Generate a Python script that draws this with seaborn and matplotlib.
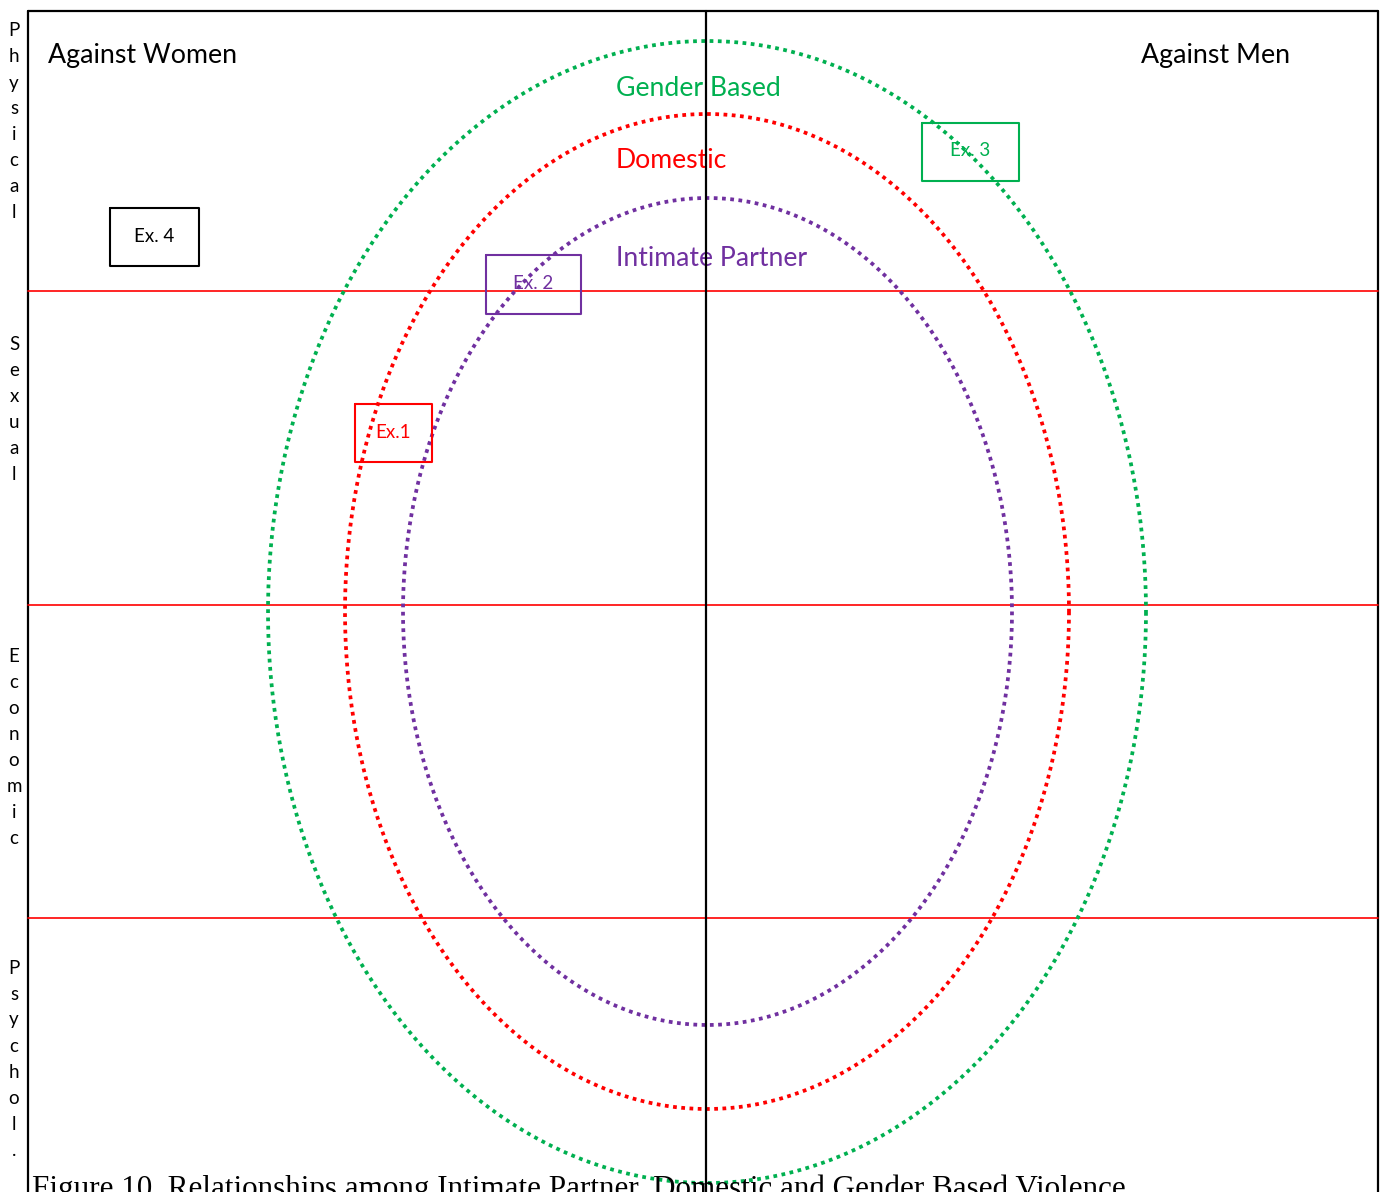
import numpy as np
import matplotlib.pyplot as plt
import seaborn as sns

# ring data: name, colour, centre and radii (in picture pixels)
ring_names = ["Gender Based", "Domestic", "Intimate Partner"]
ring_colors = ["#00B050", "#FF0000", "#7030A0"]
ring_cx = [707, 707, 707.5]
ring_cy = [612, 611.5, 611.5]
ring_rx = [439, 362, 304.5]
ring_ry = [571, 497.5, 413.5]
ring_label_y = [88, 160, 258]

# violence types down the left side and the band borders between them
type_labels = ["Physical", "Sexual", "Economic", "Psychol."]
type_label_top = [31, 344, 656, 968]
band_borders = [291, 605, 918]

# example boxes: label, colour, x0, y0, x1, y1
ex_labels = ["Ex.1", "Ex. 2", "Ex. 3", "Ex. 4"]
ex_colors = ["#FF0000", "#7030A0", "#00B050", "black"]
ex_x0 = [355, 486, 922, 110]
ex_y0 = [404, 255, 123, 208]
ex_x1 = [432, 581, 1019, 199]
ex_y1 = [462, 314, 181, 266]

caption = "Figure 10. Relationships among Intimate Partner, Domestic and Gender Based Violence"

sns.set_theme(style="white")
plt.rcParams['font.family'] = ['Lato', 'DejaVu Sans']

W, H = 1383, 1192
fig = plt.figure(figsize=(W / 100, H / 100), dpi=100)
ax = fig.add_axes([0, 0, 1, 1])
ax.set_xlim(0, W)
ax.set_ylim(H, 0)
ax.axis('off')

left, right, top, mid = 28, 1378, 11, 706

# frame
ax.plot([left, left], [top, H], color='black', lw=1.6)
ax.plot([right, right], [top, H], color='black', lw=1.6)
ax.plot([left, right], [top, top], color='black', lw=1.6)

# band borders
for y in band_borders:
    ax.plot([left, right], [y, y], color='#FF0000', lw=1.2)

# centre line
ax.plot([mid, mid], [top, H], color='black', lw=1.6, zorder=5)

# dotted rings
t = np.linspace(0, 2 * np.pi, 721)
for name, c, cx, cy, rx, ry, ly in zip(ring_names, ring_colors, ring_cx, ring_cy,
                                       ring_rx, ring_ry, ring_label_y):
    sns.lineplot(x=cx + rx * np.cos(t), y=cy + ry * np.sin(t), sort=False,
                 estimator=None, errorbar=None, color=c, lw=2.7,
                 dashes=(1.0, 1.2), dash_capstyle='butt', ax=ax)
    ax.text(616, ly, name, color=c, fontsize=19.2, va='center', ha='left')

# example boxes
for lab, c, x0, y0, x1, y1 in zip(ex_labels, ex_colors, ex_x0, ex_y0, ex_x1, ex_y1):
    ax.plot([x0, x1, x1, x0, x0], [y0, y0, y1, y1, y0], color=c, lw=1.5)
    ax.text((x0 + x1) / 2, (y0 + y1) / 2 - 1, lab, color=c, fontsize=13.5,
            ha='center', va='center')

# corner headings
ax.text(48, 55, "Against Women", fontsize=19.3, va='center', ha='left', color='black')
ax.text(1141, 55, "Against Men", fontsize=19.3, va='center', ha='left', color='black')

# vertical letters on the left
for word, y0 in zip(type_labels, type_label_top):
    for i, ch in enumerate(word):
        ax.text(14, y0 + i * 26, ch, fontsize=13.5, ha='center', va='center', color='black')

# caption, cut off at the bottom edge as in the original
ax.text(32, 1175, caption, fontsize=22.4, ha='left', va='top', color='black',
        family=['Liberation Serif', 'DejaVu Serif'])

fig.savefig("out.png", dpi=100)
